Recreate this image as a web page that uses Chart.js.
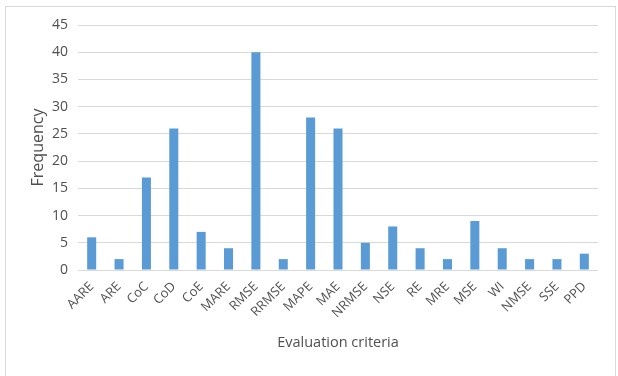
<!DOCTYPE html>
<html>
<head>
<meta charset="utf-8">
<script src="https://cdn.jsdelivr.net/npm/chart.js@4/dist/chart.umd.min.js"></script>
<style>
  html, body { margin: 0; padding: 0; background: #fff; }
  #wrap { position: relative; width: 618px; height: 376px; }
  #frame { position: absolute; left: 5px; top: 6px; width: 611px; height: 372px; border: 1px solid #d9d9d9; box-sizing: border-box; }
  canvas { position: absolute; left: 0; top: 0; }
</style>
</head>
<body>
<div id="wrap">
  <div id="frame"></div>
  <canvas id="chart" width="618" height="376"></canvas>
</div>
<script>
// evaluation criteria and how often each one was used
const criteria = ['AARE', 'ARE', 'CoC', 'CoD', 'CoE', 'MARE', 'RMSE', 'RRMSE', 'MAPE', 'MAE',
  'NRMSE', 'NSE', 'RE', 'MRE', 'MSE', 'WI', 'NMSE', 'SSE', 'PPD'];
const frequency = [6, 2, 17, 26, 7, 4, 40, 2, 28, 26, 5, 8, 4, 2, 9, 4, 2, 2, 3];
const yMax = 45;
const yStep = 5;

const textColor = '#505050';
const fontFamily = '"Open Sans", "Liberation Sans", sans-serif';

const ctx = document.getElementById('chart').getContext('2d');
new Chart(ctx, {
  type: 'bar',
  data: {
    labels: criteria,
    datasets: [
      {
        label: 'Frequency',
        data: frequency,
        backgroundColor: '#5b9bd5',
        borderWidth: 0,
        barPercentage: 0.33,
        categoryPercentage: 1,
      },
    ],
  },
  options: {
    responsive: false,
    animation: false,
    layout: { padding: { top: 25, right: 20, left: 0, bottom: 0 } },
    plugins: {
      legend: { display: false },
      tooltip: { enabled: false },
    },
    scales: {
      x: {
        afterFit: (axis) => { axis.height = 106; },
        grid: { display: false, drawTicks: false },
        border: { display: false },
        ticks: {
          autoSkip: false,
          minRotation: 45,
          maxRotation: 45,
          padding: 9,
          color: textColor,
          font: { family: fontFamily, size: 13 },
        },
        title: {
          display: true,
          text: 'Evaluation criteria',
          color: textColor,
          font: { family: fontFamily, size: 14.5 },
          padding: { top: 0, bottom: 24 },
        },
      },
      y: {
        min: 0,
        max: yMax,
        afterFit: (axis) => { axis.width = 78; },
        grid: { color: '#d9d9d9', lineWidth: 1, drawTicks: false },
        border: { display: false },
        ticks: {
          stepSize: yStep,
          padding: 10,
          color: textColor,
          font: { family: fontFamily, size: 14 },
        },
        title: {
          display: true,
          text: 'Frequency',
          color: textColor,
          font: { family: fontFamily, size: 16 },
          padding: { top: 29, bottom: 0 },
        },
      },
    },
  },
});
</script>
</body>
</html>
